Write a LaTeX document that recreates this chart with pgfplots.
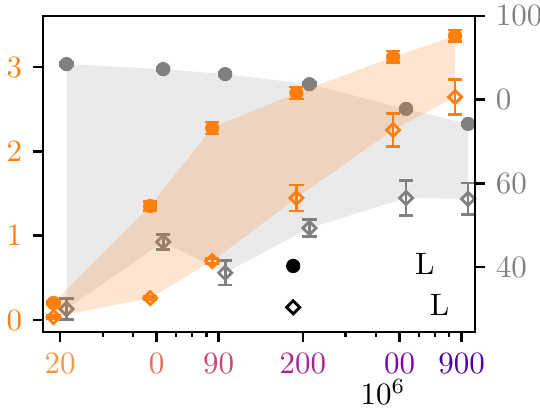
\documentclass[border=0pt]{standalone}
\usepackage{pgfplots}
\pgfplotsset{compat=1.18}
\definecolor{C1}{HTML}{FF7F0E}
\definecolor{C7}{HTML}{808080}
\definecolor{P1}{HTML}{F89540}
\definecolor{P2}{HTML}{E66C5C}
\definecolor{P3}{HTML}{CC4778}
\definecolor{P4}{HTML}{AA2395}
\definecolor{P5}{HTML}{7E03A8}
\definecolor{P6}{HTML}{4C02A1}
\begin{document}
\begin{tikzpicture}
% right axis (gray)
\begin{axis}[xmode=log,
  at={(0,0)}, anchor=south west, scale only axis,
  width=139.35pt, height=101.94pt,
  xmin=17.02, xmax=1022,
  tick align=outside, major tick length=3.2pt, minor tick length=1.5pt,
  axis line style={line width=0.8pt},
  every tick/.style={black, line width=0.8pt},
  ymin=24.46, ymax=100,
  ytick pos=right, ytick={40,60,80,100}, yticklabels={40,60,0,100},
  yticklabel style={text=C7},
  hide x axis,
]
\addplot[draw=none, fill=C7, fill opacity=0.17, forget plot] coordinates {
 (21.27,88.5) (53.18,87.3) (95.72,86.1) (212.7,83.7) (531.8,77.8) (957.2,74.2)
 (957.2,56.3) (531.8,56.5) (212.7,49.3) (95.72,38.6) (53.18,46.0) (21.27,29.96)
};
\addplot[forget plot, only marks, mark=*, mark size=2.1pt, color=C7,
  error bars/.cd, y dir=both, y explicit,
  error bar style={line width=0.9pt},
  error mark options={rotate=90, mark size=2.3pt, line width=0.9pt}]
 table[x=x, y=y, y error=e] {
 x y e
 21.27 88.5 0.4
 53.18 87.3 0.4
 95.72 86.1 0.4
 212.7 83.7 0.4
 531.8 77.8 0.4
 957.2 74.2 0.4
};
\addplot[forget plot, only marks, mark=square, mark size=1.5pt, color=C7,
  mark options={rotate=45, fill=white, line width=0.9pt},
  error bars/.cd, y dir=both, y explicit,
  error bar style={line width=0.9pt},
  error mark options={rotate=90, mark size=2.3pt, line width=0.9pt}]
 table[x=x, y=y, y error=e] {
 x y e
 21.27 29.96 2.5
 53.18 46.0 1.8
 95.72 38.6 2.9
 212.7 49.3 2.0
 531.8 56.5 4.1
 957.2 56.3 3.8
};
\end{axis}
% left axis (orange)
\begin{axis}[xmode=log,
  at={(0,0)}, anchor=south west, scale only axis,
  width=139.35pt, height=101.94pt,
  xmin=17.02, xmax=1022,
  tick align=outside, major tick length=3.2pt, minor tick length=1.5pt,
  axis line style={line width=0.8pt},
  every tick/.style={black, line width=0.8pt},
  ymin=-0.142, ymax=3.605,
  ytick pos=left, ytick={0,1,2,3},
  yticklabel style={text=C1},
  xtick pos=bottom,
  xtick={20,50,90,200,500,900},
  xticklabels={{\color{P1}20},{\color{P2}0},{\color{P3}90},{\color{P4}200},{\color{P5}00},{\color{P6}900}},
  minor xtick={30,40,60,70,80,300,400,600,700,800},
  xlabel={$10^6$},
  xlabel style={at={(axis description cs:0.787,0)}, anchor=base, yshift=-23.5pt},
  legend style={draw=none, fill=none, at={(axis description cs:0.541,0.291)}, anchor=north west, row sep=1pt},
  legend cell align=left,
]
\addplot[draw=none, fill=C1, fill opacity=0.2, forget plot] coordinates {
 (18.81,0.202) (47.02,1.352) (84.63,2.277) (188.1,2.692) (470.2,3.119) (846.3,3.368)
 (846.3,2.644) (470.2,2.253) (188.1,1.447) (84.63,0.700) (47.02,0.261) (18.81,0.036)
};
\addplot[forget plot, only marks, mark=*, mark size=2.1pt, color=C1,
  error bars/.cd, y dir=both, y explicit,
  error bar style={line width=0.9pt},
  error mark options={rotate=90, mark size=2.3pt, line width=0.9pt}]
 table[x=x, y=y, y error=e] {
 x y e
 18.81 0.202 0.02
 47.02 1.352 0.05
 84.63 2.277 0.07
 188.1 2.692 0.07
 470.2 3.119 0.07
 846.3 3.368 0.07
};
\addplot[forget plot, only marks, mark=square, mark size=1.5pt, color=C1,
  mark options={rotate=45, fill=white, line width=0.9pt},
  error bars/.cd, y dir=both, y explicit,
  error bar style={line width=0.9pt},
  error mark options={rotate=90, mark size=2.3pt, line width=0.9pt}]
 table[x=x, y=y, y error=e] {
 x y e
 18.81 0.036 0.02
 47.02 0.261 0.02
 84.63 0.700 0.03
 188.1 1.447 0.154
 470.2 2.253 0.20
 846.3 2.644 0.21
};
\addlegendimage{only marks, mark=*, mark size=2.1pt, black}
\addlegendentry{\hspace*{35.2pt}L}
\addlegendimage{only marks, mark=square, mark size=1.5pt, black, mark options={rotate=45, fill=white, line width=0.9pt}}
\addlegendentry{\hspace*{40pt}L}
\end{axis}
\pgfresetboundingbox
\useasboundingbox (-13.87pt,-24.52pt) rectangle (160.32pt,107.10pt);
\end{tikzpicture}
\end{document}
